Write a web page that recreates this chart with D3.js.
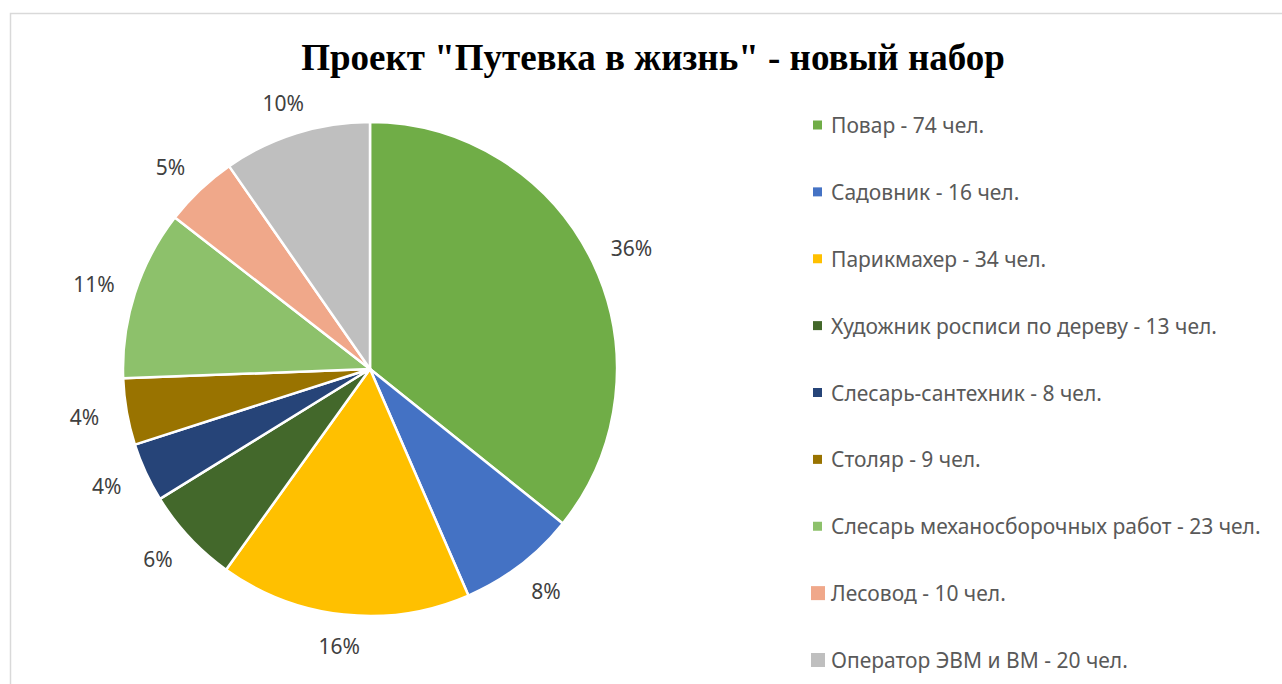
<!DOCTYPE html>
<html>
<head>
<meta charset="utf-8">
<script src="https://cdn.jsdelivr.net/npm/d3@7"></script>
<style>
  body { margin: 0; background: #fff; }
  svg { display: block; }
</style>
</head>
<body>
<svg id="drawing_region"></svg>
<script>
// data
const professions = ['Повар', 'Садовник', 'Парикмахер', 'Художник росписи по дереву',
    'Слесарь-сантехник', 'Столяр', 'Слесарь механосборочных работ', 'Лесовод', 'Оператор ЭВМ и ВМ'];
const people = [74, 16, 34, 13, 8, 9, 23, 10, 20];
const colors = ['#70AD47', '#4472C4', '#FFC000', '#43682B', '#264478', '#997300', '#8DC16B', '#F0A88A', '#BFBFBF'];
const title = 'Проект "Путевка в жизнь" - новый набор';

const data = professions.map((p, i) => ({ name: p, value: people[i], color: colors[i] }));

const width = 1282, height = 684;
const cx = 370, cy = 369, radius = 247;

const svg = d3.select('#drawing_region')
    .attr('width', width)
    .attr('height', height);

// chart border
svg.append('rect')
    .attr('x', 10.5).attr('y', 13.5)
    .attr('width', 1300).attr('height', 700)
    .attr('fill', 'none')
    .attr('stroke', '#d9d9d9')
    .attr('stroke-width', 1.5);

svg.append('text')
    .attr('x', 653).attr('y', 70)
    .attr('text-anchor', 'middle')
    .attr('font-family', '"Liberation Serif", "Times New Roman", serif')
    .attr('font-weight', 'bold')
    .attr('font-size', 37)
    .attr('fill', '#000')
    .text(title);

const pie = d3.pie().sort(null).value(d => d.value);
const arcs = pie(data);
const total = d3.sum(people);

const arc = d3.arc().innerRadius(0).outerRadius(radius);

const chart = svg.append('g')
    .attr('transform', `translate(${cx}, ${cy})`);

chart.selectAll('path')
    .data(arcs)
    .enter()
    .append('path')
    .attr('d', arc)
    .attr('fill', d => d.data.color)
    .attr('stroke', '#fff')
    .attr('stroke-width', 2.5)
    .attr('stroke-linejoin', 'round');

// percent labels outside the pie
const fmt = v => Math.round(v / total * 100) + '%';
chart.selectAll('text.pct')
    .data(arcs)
    .enter()
    .append('text')
    .attr('class', 'pct')
    .each(function(d) {
        const a = (d.startAngle + d.endAngle) / 2;
        const ux = Math.sin(a), uy = -Math.cos(a);
        const rr = radius + 22;
        d.lx = rr * ux + 21 * ux;
        d.ly = rr * uy + 10 * uy;
    })
    .attr('x', d => d.lx)
    .attr('y', d => d.ly)
    .attr('text-anchor', 'middle')
    .attr('dominant-baseline', 'central')
    .attr('font-family', '"Noto Sans", sans-serif')
    .attr('font-size', 21)
    .attr('fill', '#404040')
    .text(d => fmt(d.data.value));

// legend
const legendY = d3.scalePoint()
    .domain(professions)
    .range([125, 660]);

const legend = svg.append('g');
const items = legend.selectAll('g')
    .data(data)
    .enter()
    .append('g')
    .attr('transform', d => `translate(0, ${legendY(d.name)})`);

items.append('rect')
    .attr('x', (d, i) => i >= 7 ? 811 : 813)
    .attr('y', (d, i) => i >= 7 ? -7 : -4.5)
    .attr('width', (d, i) => i >= 7 ? 14 : 9)
    .attr('height', (d, i) => i >= 7 ? 14 : 9)
    .attr('fill', d => d.color);

items.append('text')
    .attr('x', 831)
    .attr('y', 0)
    .attr('dominant-baseline', 'central')
    .attr('font-family', '"Noto Sans", sans-serif')
    .attr('font-size', 21)
    .attr('fill', '#595959')
    .text(d => `${d.name} - ${d.value} чел.`);
</script>
</body>
</html>
